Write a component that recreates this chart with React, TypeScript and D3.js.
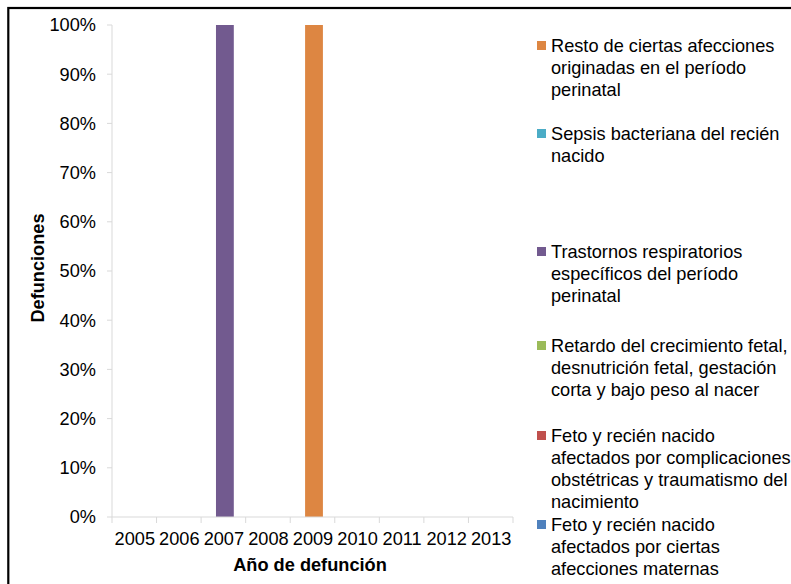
import React from "react";
import * as d3 from "d3";

// Year of death (x categories)
const years = ["2005", "2006", "2007", "2008", "2009", "2010", "2011", "2012", "2013"];

// Share of deaths per cause and year (%), stacked bottom to top
const maternas = [0, 0, 0, 0, 0, 0, 0, 0, 0];
const complicaciones = [0, 0, 0, 0, 0, 0, 0, 0, 0];
const retardo = [0, 0, 0, 0, 0, 0, 0, 0, 0];
const trastornos = [0, 0, 100, 0, 0, 0, 0, 0, 0];
const sepsis = [0, 0, 0, 0, 0, 0, 0, 0, 0];
const resto = [0, 0, 0, 0, 100, 0, 0, 0, 0];

const seriesKeys = ["maternas", "complicaciones", "retardo", "trastornos", "sepsis", "resto"];
const seriesValues = [maternas, complicaciones, retardo, trastornos, sepsis, resto];
const seriesColors = ["#4F81BD", "#C0504D", "#9BBB59", "#725A8F", "#4BACC6", "#DD8642"];

// Legend entries (top to bottom) with their wrapped lines
const legendKeys = ["resto", "sepsis", "trastornos", "retardo", "complicaciones", "maternas"];
const legendLines = [
  ["Resto de ciertas afecciones", "originadas en el período", "perinatal"],
  ["Sepsis bacteriana del recién", "nacido"],
  ["Trastornos respiratorios", "específicos del período", "perinatal"],
  ["Retardo del crecimiento fetal,", "desnutrición fetal, gestación", "corta y bajo peso al nacer"],
  ["Feto y recién nacido", "afectados por complicaciones", "obstétricas y traumatismo del", "nacimiento"],
  ["Feto y recién nacido", "afectados por ciertas", "afecciones maternas"],
];
const legendTops = [46, 134, 252, 346, 436, 525];

const yTicks = [0, 10, 20, 30, 40, 50, 60, 70, 80, 90, 100];

const W = 791;
const H = 584;
const FONT = "'Liberation Sans', Arial, sans-serif";
const FS = 18.2;

export default function App() {
  const x = d3.scaleBand<string>().domain(years).range([112, 513]).paddingInner(0.6).paddingOuter(0.3);
  const xEdges = d3.scaleLinear().domain([0, years.length]).range([112, 513]);
  const y = d3.scaleLinear().domain([0, 100]).range([517, 25]);

  const table = years.map((yr, i) => {
    const row: Record<string, number | string> = { year: yr };
    seriesKeys.forEach((k, s) => (row[k] = seriesValues[s][i]));
    return row;
  });
  const stacked = d3.stack<Record<string, number | string>>().keys(seriesKeys)(table as any);

  const bandW = (513 - 112) / years.length;
  const barW = bandW * 0.4;

  return (
    <div style={{ position: "absolute", left: 0, top: 0 }}>
      <svg width={W} height={H} style={{ display: "block", fontFamily: FONT }}>
        <rect x={0} y={0} width={W} height={H} fill="#fff" />
        {/* frame */}
        <rect x={8.3} y={8} width={W + 20} height={H + 20} fill="none" stroke="#000" strokeWidth={2.2} />

        {/* bars */}
        {stacked.map((layer, s) => (
          <g key={layer.key} fill={seriesColors[s]}>
            {layer.map((d, i) => {
              const h = y(d[0]) - y(d[1]);
              if (h <= 0) return null;
              const cx = xEdges(i + 0.5) + 1.5;
              return <rect key={i} x={cx - barW / 2} y={y(d[1])} width={barW} height={h} />;
            })}
          </g>
        ))}

        {/* y axis */}
        <line x1={112} x2={112} y1={y(100)} y2={y(0)} stroke="#D9D9D9" strokeWidth={1} />
        {yTicks.map((t) => (
          <g key={t}>
            <line x1={107} x2={112} y1={y(t)} y2={y(t)} stroke="#D9D9D9" />
            <text x={96} y={y(t)} dy="0.35em" textAnchor="end" fontSize={FS} fill="#000">
              {t}%
            </text>
          </g>
        ))}

        {/* x axis */}
        <line x1={112} x2={513} y1={517} y2={517} stroke="#D9D9D9" />
        {d3.range(years.length + 1).map((i) => (
          <line key={i} x1={xEdges(i)} x2={xEdges(i)} y1={517} y2={523} stroke="#D9D9D9" />
        ))}
        {years.map((yr) => (
          <text key={yr} x={(x(yr) ?? 0) + x.bandwidth() / 2 + 0.5} y={545} textAnchor="middle" fontSize={FS} fill="#000">
            {yr}
          </text>
        ))}

        {/* axis titles */}
        <text x={310} y={571} textAnchor="middle" fontSize={FS} fontWeight="bold" fill="#000">
          Año de defunción
        </text>
        <text transform="translate(44,268) rotate(-90)" textAnchor="middle" fontSize={FS} fontWeight="bold" fill="#000">
          Defunciones
        </text>

        {/* legend */}
        {legendKeys.map((k, li) => {
          const s = seriesKeys.indexOf(k);
          const top = legendTops[li];
          return (
            <g key={k}>
              <rect x={537} y={top - 5} width={9} height={9} fill={seriesColors[s]} />
              {legendLines[li].map((ln, j) => (
                <text key={j} x={551} y={top + j * 22} dy="0.35em" fontSize={FS} fill="#000">
                  {ln}
                </text>
              ))}
            </g>
          );
        })}
      </svg>
    </div>
  );
}
